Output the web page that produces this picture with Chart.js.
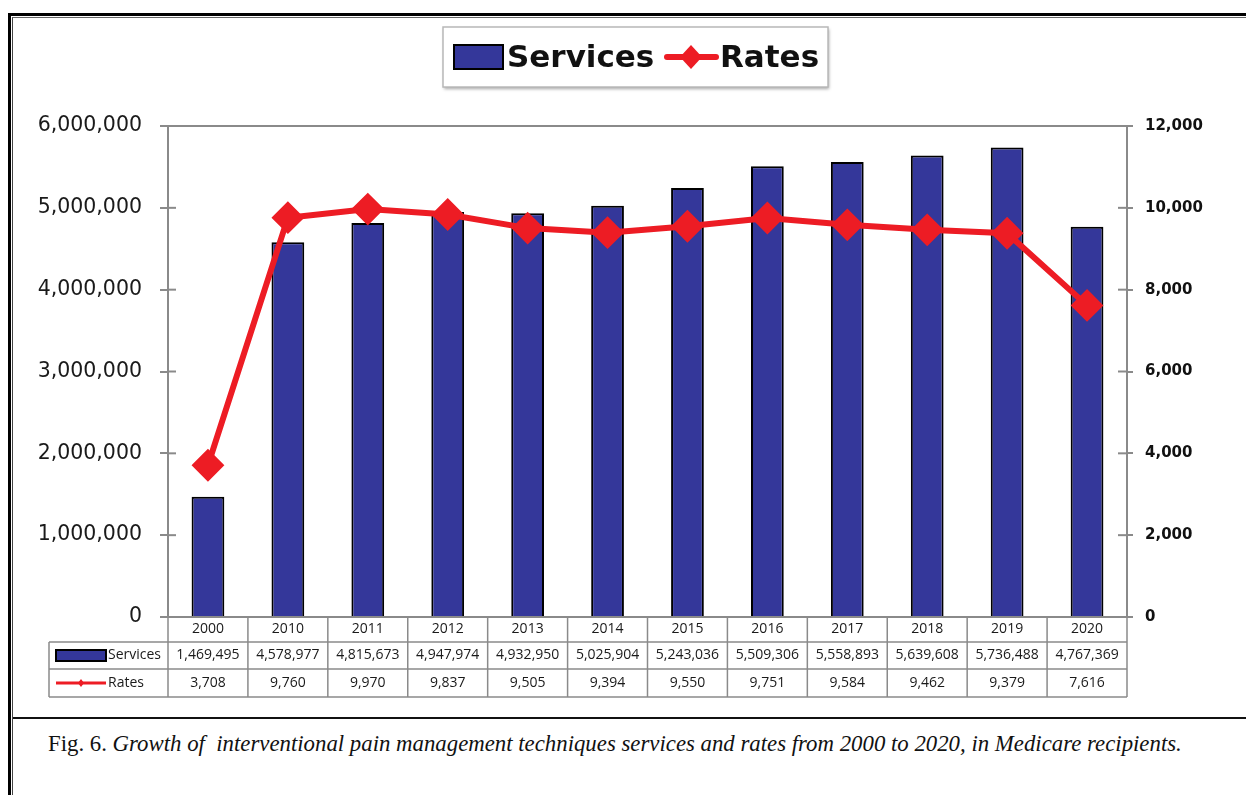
<!DOCTYPE html>
<html>
<head>
<meta charset="utf-8">
<script src="https://cdn.jsdelivr.net/npm/chart.js@4.4.1/dist/chart.umd.min.js"></script>
<style>
  html, body { margin:0; padding:0; background:#fff; width:1246px; height:795px; overflow:hidden; }
  #frameOuter { position:absolute; left:8px; top:13px; width:1300px; height:900px; border-left:3px solid #000; border-top:3px solid #000; }
  #frameInner { position:absolute; left:12px; top:17px; width:1300px; height:900px; border-left:1px solid #444; border-top:1px solid #666; }
  #sep { position:absolute; left:13px; top:717px; width:1300px; height:0; border-top:2px solid #111; }
  #cap { position:absolute; left:48px; top:733px; font-family:'Liberation Serif', serif; font-size:22.8px; line-height:22.8px; color:#111; white-space:nowrap; }
  #wrap { position:absolute; left:0; top:0; width:1246px; height:795px; }
</style>
</head>
<body>
<div id="frameOuter"></div>
<div id="frameInner"></div>
<div id="sep"></div>
<div id="cap">Fig. 6. <i>Growth of&nbsp; interventional pain management techniques services and rates from 2000 to 2020, in Medicare recipients.</i></div>
<div id="wrap"><canvas id="c"></canvas></div>
<script>
// ---- data ----
const categories = ['2000','2010','2011','2012','2013','2014','2015','2016','2017','2018','2019','2020'];
const servicesValues = [1469495, 4578977, 4815673, 4947974, 4932950, 5025904, 5243036, 5509306, 5558893, 5639608, 5736488, 4767369];
const ratesValues = [3708, 9760, 9970, 9837, 9505, 9394, 9550, 9751, 9584, 9462, 9379, 7616];
const leftTicks = [0, 1000000, 2000000, 3000000, 4000000, 5000000, 6000000];
const rightTicks = [0, 2000, 4000, 6000, 8000, 10000, 12000];
const seriesNames = ['Services', 'Rates'];

const BLUE = '#34379A';
const RED = '#ED1C24';
const fmt = v => Number(v).toLocaleString('en-US');

// ---- legend drawn in a box ----
const boxLegend = {
  id: 'boxLegend',
  afterDraw(chart) {
    const ctx = chart.ctx;
    const ds = chart.data.datasets;
    ctx.save();
    ctx.fillStyle = '#fff';
    ctx.shadowColor = 'rgba(0,0,0,0.35)';
    ctx.shadowBlur = 3; ctx.shadowOffsetX = 1; ctx.shadowOffsetY = 2;
    ctx.fillRect(443, 27, 385, 60);
    ctx.shadowColor = 'transparent';
    ctx.strokeStyle = '#b8b8b8'; ctx.lineWidth = 1.5;
    ctx.strokeRect(443, 27, 385, 60);
    // bar swatch
    ctx.fillStyle = ds[0].backgroundColor; ctx.strokeStyle = '#000'; ctx.lineWidth = 2;
    ctx.fillRect(454, 45, 49, 24); ctx.strokeRect(454, 45, 49, 24);
    ctx.font = "bold 31px 'DejaVu Sans'";
    ctx.fillStyle = '#111'; ctx.textBaseline = 'alphabetic'; ctx.textAlign = 'left';
    ctx.fillText(ds[0].label, 507, 67);
    // line swatch
    ctx.strokeStyle = ds[1].borderColor; ctx.lineWidth = 6; ctx.lineCap = 'round';
    ctx.beginPath(); ctx.moveTo(667, 57); ctx.lineTo(716, 57); ctx.stroke();
    ctx.fillStyle = ds[1].borderColor;
    ctx.beginPath(); ctx.moveTo(691, 45); ctx.lineTo(702, 57); ctx.lineTo(691, 69); ctx.lineTo(680, 57); ctx.closePath(); ctx.fill();
    ctx.fillStyle = '#111';
    ctx.fillText(ds[1].label, 720, 67);
    ctx.restore();
  }
};

// ---- plot frame extras: top border, inner tick marks ----
const frameExtras = {
  id: 'frameExtras',
  afterDraw(chart) {
    const {ctx, chartArea: ca, scales} = chart;
    ctx.save();
    ctx.strokeStyle = '#8a8a8a'; ctx.lineWidth = 2;
    ctx.beginPath(); ctx.moveTo(ca.left - 8, ca.top); ctx.lineTo(ca.right, ca.top); ctx.stroke();
    scales.y.ticks.forEach(t => {
      const py = scales.y.getPixelForValue(t.value);
      ctx.beginPath(); ctx.moveTo(ca.left, py); ctx.lineTo(ca.left + 8, py); ctx.stroke();
    });
    scales.y1.ticks.forEach(t => {
      const py = scales.y1.getPixelForValue(t.value);
      ctx.beginPath(); ctx.moveTo(ca.right - 9, py); ctx.lineTo(ca.right, py); ctx.stroke();
    });
    ctx.restore();
  }
};

// ---- data table under the x axis ----
const dataTable = {
  id: 'dataTable',
  afterDraw(chart) {
    const {ctx, chartArea: ca, scales: {x}} = chart;
    const ds = chart.data.datasets;
    const n = chart.data.labels.length;
    const step = x.getPixelForValue(1) - x.getPixelForValue(0);
    const r0 = ca.bottom, r1 = r0 + 25, r2 = r1 + 27, r3 = r2 + 28;
    const leftCol = 49;
    ctx.save();
    ctx.strokeStyle = '#8a8a8a'; ctx.lineWidth = 1.5;
    const line = (a, b, c, d) => { ctx.beginPath(); ctx.moveTo(a, b); ctx.lineTo(c, d); ctx.stroke(); };
    [r1, r2, r3].forEach(yy => line(leftCol, yy, ca.right, yy));
    for (let i = 0; i <= n; i++) {
      const xx = i < n ? x.getPixelForValue(i) - step / 2 : x.getPixelForValue(n - 1) + step / 2;
      line(xx, r0, xx, r3);
    }
    line(leftCol, r1, leftCol, r3);
    // values
    ctx.font = "14px 'Open Sans'";
    ctx.fillStyle = '#1a1a1a'; ctx.textAlign = 'center'; ctx.textBaseline = 'middle';
    for (let i = 0; i < n; i++) {
      const cx = x.getPixelForValue(i);
      ctx.fillText(fmt(ds[0].data[i]), cx, (r1 + r2) / 2);
      ctx.fillText(fmt(ds[1].data[i]), cx, (r2 + r3) / 2);
    }
    // row headers
    ctx.textAlign = 'left';
    ctx.fillText(ds[0].label, 108, (r1 + r2) / 2);
    ctx.fillText(ds[1].label, 108, (r2 + r3) / 2);
    ctx.fillStyle = ds[0].backgroundColor; ctx.strokeStyle = '#000'; ctx.lineWidth = 2;
    ctx.fillRect(56, r1 + 8, 50, 11); ctx.strokeRect(56, r1 + 8, 50, 11);
    const ly = (r2 + r3) / 2;
    ctx.strokeStyle = ds[1].borderColor; ctx.lineWidth = 3;
    line(56, ly, 106, ly);
    ctx.fillStyle = ds[1].borderColor;
    ctx.beginPath(); ctx.moveTo(81, ly - 4); ctx.lineTo(84, ly); ctx.lineTo(81, ly + 4); ctx.lineTo(78, ly); ctx.closePath(); ctx.fill();
    ctx.restore();
  }
};

new Chart(document.getElementById('c'), {
  type: 'bar',
  data: {
    labels: categories,
    datasets: [
      {
        type: 'bar', label: seriesNames[0], data: servicesValues, yAxisID: 'y', order: 1,
        backgroundColor: BLUE, borderColor: '#000', borderWidth: 2,
        categoryPercentage: 1.0, barPercentage: 0.41
      },
      {
        type: 'line', label: seriesNames[1], data: ratesValues, yAxisID: 'y1', order: 0,
        borderColor: RED, backgroundColor: RED, borderWidth: 6, tension: 0,
        pointStyle: 'rectRot', pointRadius: 15, pointBorderWidth: 2,
        pointBackgroundColor: RED, pointBorderColor: RED
      }
    ]
  },
  options: {
    responsive: true, maintainAspectRatio: false, animation: false,
    layout: { padding: { top: 126, left: 0, right: 0, bottom: 98 } },
    plugins: { legend: { display: false }, tooltip: { enabled: false } },
    scales: {
      x: {
        grid: { display: false, drawTicks: false },
        border: { display: true, color: '#8a8a8a', width: 2 },
        ticks: { font: { family: 'Open Sans', size: 14 }, color: '#1a1a1a', padding: 4, maxRotation: 0 },
        afterFit: s => { s.height = 80; }
      },
      y: {
        position: 'left', min: 0, max: 6000000,
        afterBuildTicks: s => { s.ticks = leftTicks.map(v => ({ value: v })); },
        grid: { drawOnChartArea: false, drawTicks: true, tickLength: 8, color: '#8a8a8a', lineWidth: 2 },
        border: { display: true, color: '#8a8a8a', width: 2 },
        ticks: { font: { family: 'DejaVu Sans', size: 20.5 }, color: '#1a1a1a', padding: 18, callback: v => fmt(v) },
        afterFit: s => { s.width = 168; }
      },
      y1: {
        position: 'right', min: 0, max: 12000,
        afterBuildTicks: s => { s.ticks = rightTicks.map(v => ({ value: v })); },
        grid: { drawOnChartArea: false, drawTicks: true, tickLength: 6, color: '#8a8a8a', lineWidth: 2 },
        border: { display: true, color: '#8a8a8a', width: 2 },
        ticks: { font: { family: 'DejaVu Sans', size: 15, weight: 'bold' }, color: '#111', padding: 12, callback: v => fmt(v) },
        afterFit: s => { s.width = 119; }
      }
    }
  },
  plugins: [boxLegend, frameExtras, dataTable]
});
</script>
</body>
</html>
